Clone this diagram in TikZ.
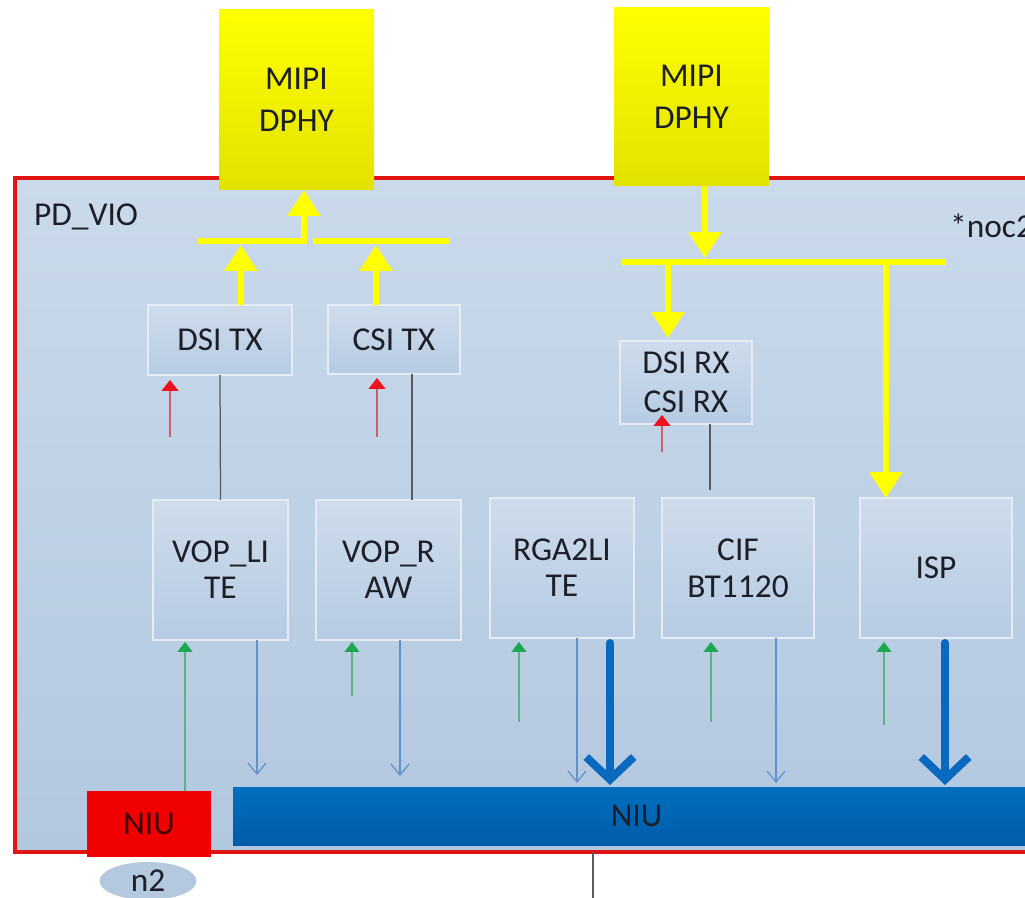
\documentclass[tikz,border=0pt]{standalone}
\usepackage{fontspec}
\setmainfont{Carlito}
\usetikzlibrary{arrows.meta,shapes.geometric}
\definecolor{bgtop}{RGB}{202,218,235}
\definecolor{bgbot}{RGB}{178,200,223}
\definecolor{boxtop}{RGB}{206,220,236}
\definecolor{boxbot}{RGB}{182,203,226}
\definecolor{boxline}{RGB}{228,236,245}
\definecolor{ylw}{RGB}{255,255,0}
\definecolor{ylwd}{RGB}{226,226,0}
\definecolor{niutop}{RGB}{0,110,190}
\definecolor{niubot}{RGB}{0,92,170}
\definecolor{thinblue}{RGB}{95,145,205}
\definecolor{thickblue}{RGB}{10,105,190}
\definecolor{grn}{RGB}{28,168,80}
\definecolor{grnline}{RGB}{95,175,135}
\definecolor{redarr}{RGB}{235,20,30}
\definecolor{redline}{RGB}{205,95,105}
\definecolor{framered}{RGB}{225,20,20}
\definecolor{txt}{RGB}{28,30,40}
\definecolor{grayline}{RGB}{85,90,100}
\definecolor{ntwo}{RGB}{180,200,222}
\begin{document}
\begin{tikzpicture}[x=0.02cm,y=-0.02cm,
  font=\fontsize{19}{23}\selectfont,
  every node/.style={text=txt},
  sz/.style 2 args={minimum width={#1*0.02cm}, minimum height={#2*0.02cm}, inner sep=0pt, outer sep=0pt},
  blk/.style={draw=boxline, line width=0.03cm, top color=boxtop, bottom color=boxbot, align=center},
  phy/.style={top color=ylw, bottom color=ylwd, align=center},
  ybus/.style={draw=ylw, line width=0.12cm},
  yarr/.style={draw=ylw, line width=0.12cm, -{Triangle[width=0.64cm,length=0.52cm]}},
  garr/.style={draw=grnline, line width=0.025cm, -{Triangle[width=0.3cm,length=0.2cm,color=grn]}},
  rarr/.style={draw=redline, line width=0.025cm, -{Triangle[width=0.34cm,length=0.22cm,color=redarr]}},
  tbarr/.style={draw=thinblue, line width=0.025cm, -{Straight Barb[width=0.36cm,length=0.22cm]}},
  bbarr/.style={draw=thickblue, line width=0.16cm, line cap=round, -{Straight Barb[width=0.95cm,length=0.45cm]}},
  gline/.style={draw=grayline, line width=0.025cm}]
\useasboundingbox (0,0) rectangle (1025,898);
\clip (0,0) rectangle (1025,898);
\fill[white] (0,0) rectangle (1025,898);
% power domain frame
\draw[framered, line width=0.08cm, top color=bgtop, bottom color=bgbot] (15,178) rectangle (1060,852);
\node[anchor=west] (pdvio) at (28,217) {PD\_VIO};
\node[anchor=west] (noc) at (944,226) {*noc2};
% MIPI DPHY blocks
\node[phy, sz={155}{180}, font=\fontsize{19}{24}\selectfont] (dphyL) at (296.5,100) {MIPI\\DPHY};
\node[phy, sz={155}{178}, font=\fontsize{19}{24}\selectfont] (dphyR) at (691.5,97) {MIPI\\DPHY};
% blocks
\node[blk, sz={144}{70}] (dsitx) at (220,340) {DSI TX};
\node[blk, sz={132}{69}] (csitx) at (394,339.5) {CSI TX};
\node[blk, sz={132}{83}, font=\fontsize{19}{22}\selectfont] (rx) at (686,382.5) {DSI RX\\CSI RX};
\node[blk, sz={135}{140}, font=\fontsize{19}{20.5}\selectfont] (vopl) at (220.5,570) {VOP\_LI\\TE};
\node[blk, sz={145}{140}, font=\fontsize{19}{20.5}\selectfont] (vopr) at (388.5,570) {VOP\_R\\AW};
\node[blk, sz={144}{140}, font=\fontsize{19}{20.5}\selectfont] (rga) at (562,568) {RGA2LI\\TE};
\node[blk, sz={152}{140}, font=\fontsize{19}{21}\selectfont] (cif) at (738,568) {CIF\\BT1120};
\node[blk, sz={152}{140}] (isp) at (936,568) {ISP};
% NIU blocks
\node[sz={807}{58}, top color=niutop, bottom color=niubot] (niub) at (636.5,816) {NIU};
\node[sz={124}{66}, fill={rgb,255:red,240;green,0;blue,0}, text={rgb,255:red,60;green,0;blue,0}] (niur) at (149,824) {NIU};
\node[ellipse, fill=ntwo, minimum width=1.94cm, minimum height=0.76cm, inner sep=0pt] (n2) at (148,881) {n2};
% yellow buses
\coordinate (bL1) at (198,241);
\coordinate (bL2) at (307,241);
\coordinate (bL3) at (313,241);
\coordinate (bL4) at (450,241);
\coordinate (bR1) at (622,262);
\coordinate (bR2) at (946,262);
\draw[ybus] (bL1) -- (bL2);
\draw[ybus] (bL3) -- (bL4);
\draw[ybus] (bR1) -- (bR2);
\coordinate (aTx1) at (241,245);
\coordinate (aTx2) at (376,245);
\coordinate (aUp) at (304,241);
\coordinate (aDn) at (705,258);
\coordinate (aRx) at (668,262);
\coordinate (aIsp) at (886,262);
\draw[yarr] (dsitx.north -| aTx1) -- (aTx1);
\draw[yarr] (csitx.north -| aTx2) -- (aTx2);
\draw[yarr] (aUp) -- (dphyL.south -| aUp);
\draw[yarr] (dphyR.south -| aDn) -- (aDn);
\draw[yarr, shorten >=0.06cm] (aRx) -- (rx.north -| aRx);
\draw[yarr] (aIsp) -- (isp.north -| aIsp);
% gray links
\coordinate (gC) at (412,0);
\coordinate (gR) at (710,490);
\draw[gline] (dsitx.south) -- (vopl.north);
\draw[gline] (csitx.south -| gC) -- (vopr.north -| gC);
\draw[gline] (rx.south -| gR) -- (gR);
% red arrows
\coordinate (r1) at (170,437);
\coordinate (r2) at (377,437);
\coordinate (r3) at (662,452);
\draw[rarr, shorten >=0.1cm] (r1) -- (dsitx.south -| r1);
\draw[rarr, shorten >=0.08cm] (r2) -- (csitx.south -| r2);
\draw[rarr, shorten >=-0.18cm] (r3) -- (rx.south -| r3);
% green arrows
\coordinate (g1) at (185,0);
\coordinate (g2) at (352,696);
\coordinate (g3) at (519,722);
\coordinate (g4) at (711,722);
\coordinate (g5) at (884,725);
\draw[garr, shorten >=0.04cm] (niur.north -| g1) -- (vopl.south -| g1);
\draw[garr, shorten >=0.04cm] (g2) -- (vopr.south -| g2);
\draw[garr, shorten >=0.08cm] (g3) -- (rga.south -| g3);
\draw[garr, shorten >=0.08cm] (g4) -- (cif.south -| g4);
\draw[garr, shorten >=0.08cm] (g5) -- (isp.south -| g5);
% thin blue arrows
\coordinate (b1) at (257,0);
\coordinate (b2) at (400,0);
\coordinate (b3) at (577,0);
\coordinate (b4) at (776,0);
\draw[tbarr, shorten >=0.24cm] (vopl.south -| b1) -- (niub.north -| b1);
\draw[tbarr, shorten >=0.22cm] (vopr.south -| b2) -- (niub.north -| b2);
\draw[tbarr, shorten >=0.08cm] (rga.south -| b3) -- (niub.north -| b3);
\draw[tbarr, shorten >=0.08cm] (cif.south -| b4) -- (niub.north -| b4);
% thick blue arrows
\coordinate (t1) at (610,0);
\coordinate (t2) at (945,0);
\draw[bbarr, shorten <=0.1cm, shorten >=0.04cm] (rga.south -| t1) -- (niub.north -| t1);
\draw[bbarr, shorten <=0.1cm, shorten >=0.04cm] (isp.south -| t2) -- (niub.north -| t2);
% line below NIU
\coordinate (up) at (593,852);
\coordinate (dn) at (593,905);
\draw[gline] (up) -- (dn);
\end{tikzpicture}
\end{document}
